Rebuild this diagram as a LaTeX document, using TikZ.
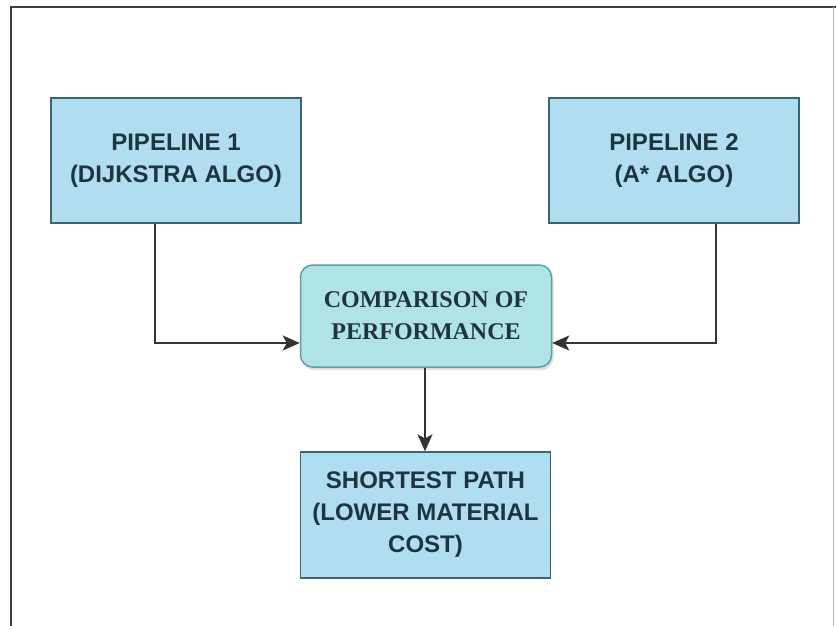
\documentclass[tikz,border=0pt]{standalone}
\usepackage{fontspec}
\setmainfont{Liberation Sans}
\newfontfamily\serifbox{Liberation Serif}
\usetikzlibrary{arrows.meta,shadows}
\definecolor{pipefill}{HTML}{B1DDF0}
\definecolor{pipeline}{HTML}{3C6475}
\definecolor{cmpfill}{HTML}{B0E3E6}
\definecolor{cmpline}{HTML}{5E9FA4}
\definecolor{txtcol}{HTML}{1E3440}
\begin{document}
\begin{tikzpicture}[x=1pt,y=-1pt,
    pipebox/.style={draw=pipeline, line width=1.3pt, fill=pipefill, text=txtcol,
        minimum width=250pt, minimum height=125pt, align=center,
        font=\fontsize{24}{32}\selectfont\bfseries},
    cmpbox/.style={draw=cmpline, line width=1.5pt, fill=cmpfill, text=txtcol,
        rounded corners=12pt, minimum width=251pt, minimum height=102pt, align=center,
        font=\serifbox\fontsize{24}{32}\selectfont\bfseries,
        drop shadow={opacity=0.25, shadow xshift=2pt, shadow yshift=-3pt}},
    link/.style={draw=black!80, line width=1.6pt, -{Stealth[length=17pt,width=15pt,inset=4pt]}}]
    \useasboundingbox (0,0) rectangle (836,626);
    % Frame
    \draw[line width=2pt, black!75] (11,626) -- (11,7) -- (836,7);
    \draw[line width=0.8pt, black!25] (833,7) -- (833,626);
    % Define the boxes
    \node[pipebox] (pipeA) at (176,160.5) {PIPELINE 1\\(DIJKSTRA ALGO)};
    \node[pipebox] (pipeB) at (674,160.5) {PIPELINE 2\\(A* ALGO)};
    \node[cmpbox] (compare) at (426,316) {COMPARISON OF\\PERFORMANCE};
    \node[pipebox, minimum height=126pt] (shortest) at (425.5,515) {SHORTEST PATH\\(LOWER MATERIAL\\COST)};
    % Add connectors
    \draw[link] (pipeA.south -| 155,0) |- (compare.west |- 0,343);
    \draw[link] (pipeB.south -| 716,0) |- (compare.east |- 0,343);
    \draw[link] (compare.south -| 425,0) -- (shortest.north -| 425,0);
\end{tikzpicture}
\end{document}
